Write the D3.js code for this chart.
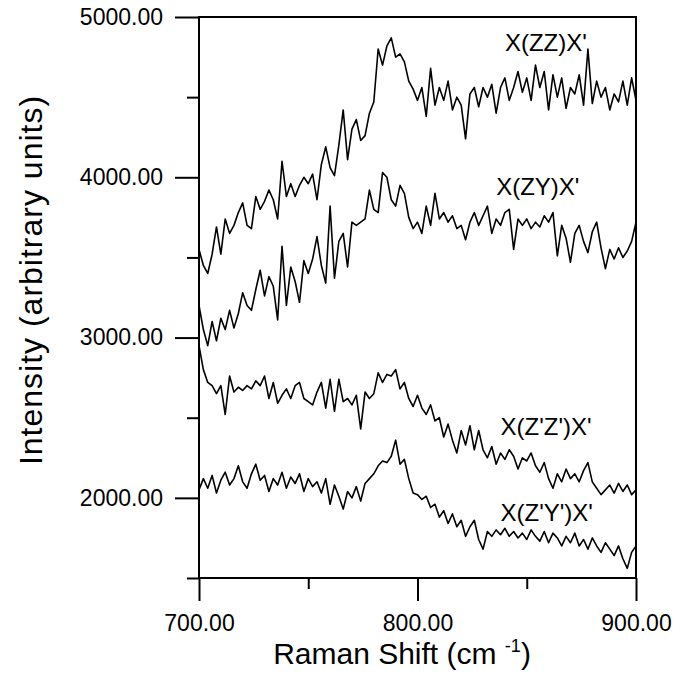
<!DOCTYPE html>
<html>
<head>
<meta charset="utf-8">
<script src="https://cdn.jsdelivr.net/npm/d3@7"></script>
<style>
  body { margin: 0; background: #fff; }
  svg { display: block; font-family: "Liberation Sans", Arial, sans-serif; }
</style>
</head>
<body>
<div id="chart"></div>
<script>
// Raman shift grid (cm-1), one reading every 2 cm-1
const shift = d3.range(700, 901, 2);

// Series
const zz = [3550, 3450, 3400, 3520, 3690, 3520, 3740, 3650, 3700, 3780,
  3840, 3700, 3680, 3880, 3800, 3850, 3920, 3860, 3740, 4100,
  3880, 3960, 3880, 3950, 4000, 3960, 4020, 3860, 4080, 4190,
  4060, 4010, 4200, 4420, 4110, 4300, 4360, 4230, 4260, 4400,
  4470, 4800, 4700, 4820, 4870, 4750, 4770, 4720, 4600, 4550,
  4480, 4560, 4380, 4680, 4450, 4560, 4480, 4600, 4420, 4500,
  4450, 4240, 4520, 4560, 4440, 4560, 4500, 4580, 4400, 4560,
  4620, 4480, 4560, 4660, 4530, 4620, 4480, 4700, 4560, 4660,
  4420, 4640, 4500, 4620, 4430, 4560, 4520, 4640, 4450, 4800,
  4460, 4600, 4500, 4560, 4420, 4520, 4470, 4600, 4450, 4620, 4480];

const zy = [3200, 3050, 2950, 3100, 2980, 3120, 3050, 3170, 3060, 3150,
  3280, 3200, 3170, 3300, 3420, 3260, 3380, 3320, 3110, 3570,
  3200, 3440, 3350, 3220, 3480, 3400, 3490, 3630, 3450, 3340,
  3820, 3370, 3600, 3650, 3440, 3720, 3700, 3720, 3740, 3920,
  3800, 3780, 4030, 4000, 3860, 3820, 3950, 3900, 3750, 3680,
  3720, 3650, 3820, 3700, 3900, 3740, 3780, 3720, 3760, 3680,
  3700, 3610, 3720, 3780, 3700, 3760, 3820, 3650, 3740, 3700,
  3780, 3800, 3550, 3740, 3700, 3740, 3680, 3720, 3690, 3760,
  3720, 3780, 3510, 3700, 3620, 3470, 3650, 3700, 3600, 3530,
  3660, 3720, 3560, 3430, 3550, 3490, 3560, 3500, 3540, 3600, 3720];

const zpzp = [2950, 2800, 2720, 2700, 2650, 2700, 2520, 2760, 2660, 2690,
  2670, 2700, 2680, 2730, 2700, 2760, 2620, 2720, 2590, 2640,
  2680, 2620, 2700, 2720, 2620, 2600, 2580, 2660, 2720, 2560,
  2740, 2540, 2740, 2600, 2620, 2580, 2640, 2430, 2660, 2620,
  2650, 2780, 2720, 2770, 2760, 2800, 2680, 2720, 2620, 2570,
  2640, 2560, 2520, 2580, 2480, 2500, 2380, 2460, 2360, 2280,
  2420, 2330, 2450, 2300, 2420, 2300, 2250, 2320, 2210, 2280,
  2240, 2300, 2260, 2180, 2250, 2230, 2280, 2200, 2160, 2220,
  2120, 2060, 2150, 2100, 2180, 2120, 2150, 2100, 2170, 2220,
  2100, 2060, 2020, 2050, 2080, 2030, 2090, 2040, 2080, 2020, 2050];

const zpyp = [2050, 2120, 2060, 2140, 2030, 2110, 2160, 2080, 2120, 2200,
  2100, 2060, 2150, 2210, 2110, 2140, 2040, 2120, 2080, 2160,
  2060, 2130, 2090, 2150, 2040, 2120, 2070, 2100, 2030, 2120,
  1960, 2080, 2010, 1930, 2040, 2000, 2070, 1980, 2090, 2120,
  2150, 2200, 2230, 2220, 2260, 2360, 2210, 2240, 2120, 2030,
  2020, 1990, 2010, 1940, 1960, 1880, 1920, 1840, 1900, 1820,
  1860, 1760, 1820, 1860, 1740, 1680, 1790, 1760, 1800, 1770,
  1810, 1760, 1790, 1750, 1780, 1740, 1800, 1760, 1730, 1790,
  1720, 1780, 1750, 1700, 1760, 1720, 1780, 1700, 1740, 1680,
  1750, 1700, 1660, 1720, 1680, 1640, 1700, 1620, 1560, 1660, 1700];

const seriesNames = ["X(ZZ)X'", "X(ZY)X'", "X(Z'Z')X'", "X(Z'Y')X'"];
// label anchor (start of text) in data units
const labelPos = [[840, 4790], [836, 3890], [838, 2395], [838, 1855]];

const xMajor = [700, 800, 900];
const xMinor = [750, 850];
const yMajor = [2000, 3000, 4000, 5000];
const yMinor = [1500, 2500, 3500, 4500];

const W = 680, H = 678;
const pL = 199, pR = 636, pT = 17, pB = 578;

const svg = d3.select('#chart').append('svg')
  .attr('width', W).attr('height', H);

const x = d3.scaleLinear().domain([700, 900]).range([pL, pR]);
const y = d3.scaleLinear().domain([1500, 5000]).range([pB, pT]);
const fmt = d3.format('.2f');

// axes
const xAxisMaj = svg.append('g').attr('transform', `translate(0,${pB})`)
  .call(d3.axisBottom(x).tickValues(xMajor).tickSize(23).tickFormat(fmt));
const xAxisMin = svg.append('g').attr('transform', `translate(0,${pB})`)
  .call(d3.axisBottom(x).tickValues(xMinor).tickSize(11).tickFormat(''));
const yAxisMaj = svg.append('g').attr('transform', `translate(${pL},0)`)
  .call(d3.axisLeft(y).tickValues(yMajor).tickSize(24).tickFormat(fmt));
const yAxisMin = svg.append('g').attr('transform', `translate(${pL},0)`)
  .call(d3.axisLeft(y).tickValues(yMinor).tickSize(12).tickFormat(''));

svg.selectAll('.domain').remove();
svg.selectAll('.tick line').attr('stroke', '#000').attr('stroke-width', 2);
svg.selectAll('.tick text')
  .attr('fill', '#000')
  .style('font-size', '23px');
xAxisMaj.selectAll('.tick text').attr('y', 37);
yAxisMaj.selectAll('.tick text').attr('x', -36);

// frame
svg.append('rect')
  .attr('x', pL).attr('y', pT)
  .attr('width', pR - pL).attr('height', pB - pT)
  .attr('fill', 'none').attr('stroke', '#000').attr('stroke-width', 2);

// spectra
const line = d3.line().x((d, i) => x(shift[i])).y(d => y(d));
[zz, zy, zpzp, zpyp].forEach(s => {
  svg.append('path')
    .datum(s)
    .attr('d', line)
    .attr('fill', 'none')
    .attr('stroke', '#000')
    .attr('stroke-width', 1.6)
    .attr('stroke-linejoin', 'round');
});

// series labels
svg.selectAll('.lbl')
  .data(seriesNames)
  .enter()
  .append('text')
  .attr('class', 'lbl')
  .attr('x', (d, i) => x(labelPos[i][0]))
  .attr('y', (d, i) => y(labelPos[i][1]))
  .style('font-size', '24px')
  .text(d => d);

// axis titles
const xt = svg.append('text')
  .attr('x', 402)
  .attr('y', 664)
  .attr('text-anchor', 'middle')
  .style('font-size', '30px');
xt.append('tspan').text('Raman Shift (cm ');
xt.append('tspan').attr('dy', -12).style('font-size', '18px').text('-1');
xt.append('tspan').attr('dy', 12).text(')');

svg.append('text')
  .attr('transform', `translate(42,280) rotate(-90)`)
  .attr('text-anchor', 'middle')
  .style('font-size', '32px')
  .style('letter-spacing', '1px')
  .text('Intensity (arbitrary units)');
</script>
</body>
</html>
